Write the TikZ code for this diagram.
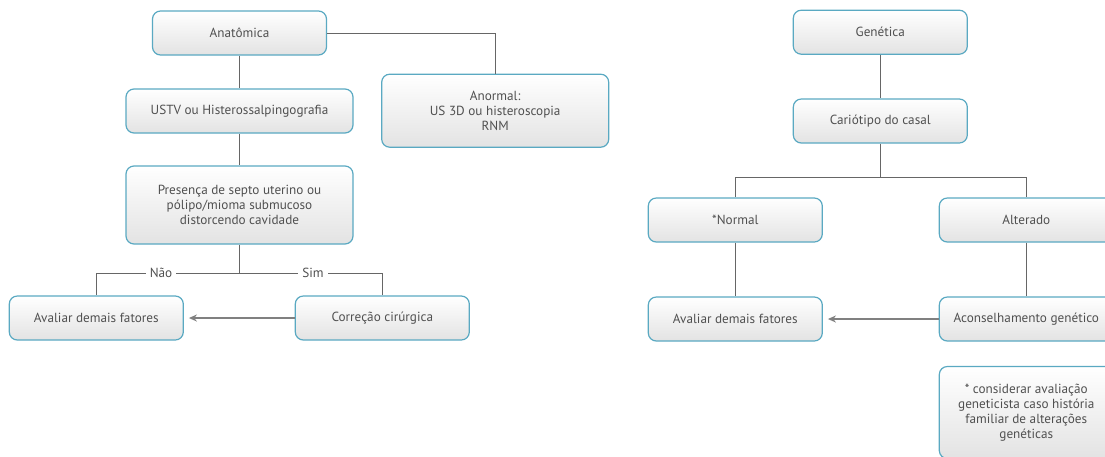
\documentclass[tikz,border=0pt]{standalone}
\usepackage{fontspec}
\setmainfont{PT Sans}
\usetikzlibrary{arrows.meta}

\definecolor{boxline}{HTML}{5AA9C2}
\definecolor{boxtext}{HTML}{505050}
\definecolor{wire}{HTML}{666666}

\tikzset{
  box/.style={draw=boxline, line width=1.2pt, rounded corners=8pt,
    top color=white, bottom color=black!11, text=boxtext,
    font=\fontsize{13.2}{15}\selectfont, align=center,
    minimum height=44pt, inner sep=0pt},
  smallbox/.style={box, minimum width=174pt},
  widebox/.style={box, minimum width=227pt},
  link/.style={draw=wire, line width=1pt},
  pointer/.style={draw=black!50, line width=1.5pt,
    -{Stealth[length=8pt,width=7pt]}, shorten >=5pt},
  answer/.style={fill=white, text=boxtext,
    font=\fontsize{13.2}{15}\selectfont, inner xsep=4pt, inner ysep=1pt}
}

\begin{document}
\begin{tikzpicture}[x=1pt, y=-1pt]

  \clip (0,0) rectangle (1105,456);

  % Nodes (anatomica):
  \node[smallbox] (anat) at (239.5,33) {Anatômica};
  \node[widebox] (ustv) at (239.5,111) {USTV ou Histerossalpingografia};
  \node[widebox, minimum height=73pt] (anormal) at (495.2,110.7)
    {Anormal:\\US 3D ou histeroscopia\\RNM};
  \node[widebox, minimum height=78pt] (presenca) at (239.5,205)
    {Presença de septo uterino ou\\pólipo/mioma submucoso\\distorcendo cavidade};
  \node[smallbox] (avaliarA) at (96.3,318) {Avaliar demais fatores};
  \node[smallbox] (correcao) at (382.3,318) {Correção cirúrgica};

  % Nodes (genetica):
  \node[smallbox] (genet) at (880.3,32.2) {Genética};
  \node[smallbox] (cario) at (880.3,121) {Cariótipo do casal};
  \node[smallbox] (normal) at (735.3,220) {*Normal};
  \node[smallbox] (alterado) at (1026.3,220) {Alterado};
  \node[smallbox] (avaliarG) at (735.3,319) {Avaliar demais fatores};
  \node[smallbox] (aconselha) at (1026.3,319) {Aconselhamento genético};
  \node[smallbox, minimum height=92pt] (nota) at (1026.3,412.5)
    {* considerar avaliação\\geneticista caso história\\familiar de alterações\\genéticas};

  % Connections:
  \draw[link] (anat) -- (ustv);
  \draw[link] (ustv) -- (presenca);
  \draw[link] (anat.east) -| (anormal.north);
  \draw[link] (presenca.south) -- ++(0,28.7) coordinate (forkA);
  \draw[link] (forkA) -| node[answer, pos=0.274] {Não} (avaliarA.north);
  \draw[link] (forkA) -| node[answer, pos=0.257] {Sim} (correcao.north);
  \draw[pointer] (correcao) -- (avaliarA);

  \draw[link] (genet) -- (cario);
  \draw[link] (cario.south) -- ++(0,34) coordinate (forkG);
  \draw[link] (forkG) -| (normal.north);
  \draw[link] (forkG) -| (alterado.north);
  \draw[link] (normal) -- (avaliarG);
  \draw[link] (alterado) -- (aconselha);
  \draw[pointer] (aconselha) -- (avaliarG);

\end{tikzpicture}
\end{document}
